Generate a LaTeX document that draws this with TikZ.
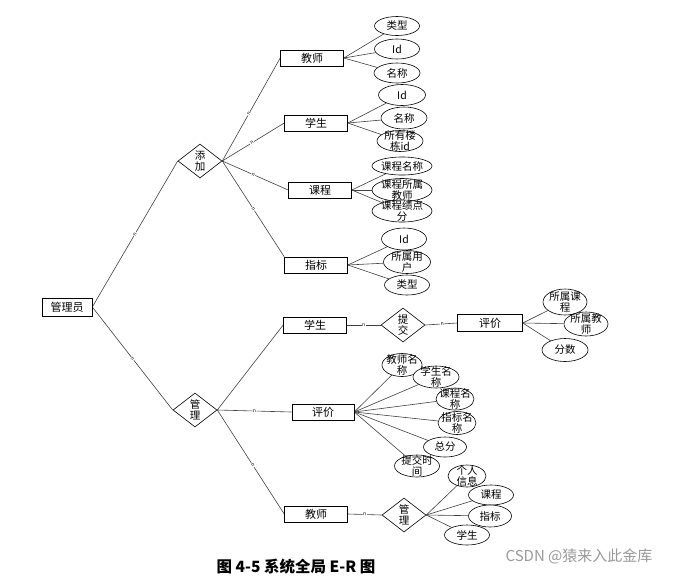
\documentclass[tikz,border=0pt]{standalone}
\usepackage{fontspec}
\setmainfont{Noto Sans CJK SC}
\usetikzlibrary{shapes.geometric,backgrounds}
\begin{document}
\begin{tikzpicture}[x=1pt,y=-1pt,
 ent/.style={draw=black, line width=0.6pt, minimum width=63pt, minimum height=16pt, inner sep=0pt, fill=white, font=\fontsize{11}{11}\selectfont},
 attr/.style={ellipse, draw=black, fill=white, line width=0.6pt, minimum width=45pt, minimum height=20pt, inner sep=0pt},
 atxt/.style={font=\fontsize{10.5}{10.5}\selectfont, align=center, inner sep=0pt},
 rel/.style={diamond, draw=black, fill=white, line width=0.6pt, minimum width=44pt, minimum height=34pt, inner sep=0pt},
 conn/.style={draw=black!75, line width=0.6pt},
 card/.style={font=\fontsize{5}{5}\selectfont, fill=white, inner sep=0.6pt, sloped},
]
\useasboundingbox (0,0) rectangle (692,579);

% entities
\node[ent, minimum width=50pt, minimum height=18pt] (admin) at (67,307) {管理员};
\node[ent] (e1) at (312,58) {教师};
\node[ent] (e2) at (316,123) {学生};
\node[ent] (e3) at (320,190) {课程};
\node[ent] (e4) at (316,265) {指标};
\node[ent] (e5) at (315,325) {学生};
\node[ent, minimum width=65pt, minimum height=17pt] (e6) at (490,323) {评价};
\node[ent, minimum width=62pt] (e7) at (323,412) {评价};
\node[ent] (e8) at (316,514) {教师};

% relations
\node[rel, label={[atxt]center:添\\加}] (r1) at (200,161) {};
\node[rel, label={[atxt]center:管\\理}] (r2) at (195,410) {};
\node[rel, label={[atxt]center:提\\交}] (r3) at (403,325) {};
\node[rel, label={[atxt]center:管\\理}] (r4) at (404,515) {};

% attributes of 教师
\node[attr, minimum height=19pt, label={[atxt]center:类型}] (a11) at (397,26) {};
\node[attr, label={[atxt]center:Id}] (a12) at (397,49) {};
\node[attr, minimum width=46pt, label={[atxt]center:名称}] (a13) at (397,73) {};
% attributes of 学生
\node[attr, minimum width=47pt, minimum height=21pt, label={[atxt]center:Id}] (a21) at (402,95) {};
\node[attr, minimum width=46pt, minimum height=22pt, label={[atxt]center:名称}] (a22) at (404,118) {};
\node[attr, minimum width=46pt, minimum height=21pt, label={[atxt]center:所有楼\\栋id}] (a23) at (400,141) {};
% attributes of 课程
\node[attr, minimum width=60pt, minimum height=18pt, label={[atxt]center:课程名称}] (a31) at (402,166) {};
\node[attr, minimum width=60pt, minimum height=23pt, label={[atxt]center:课程所属\\教师}] (a32) at (402,190) {};
\node[attr, minimum width=60pt, minimum height=22pt, label={[atxt]center:课程绩点\\分}] (a33) at (402,211) {};
% attributes of 指标
\node[attr, minimum height=22pt, label={[atxt]center:Id}] (a41) at (404,239) {};
\node[attr, minimum width=47pt, minimum height=23pt, label={[atxt]center:所属用\\户}] (a42) at (407,262) {};
\node[attr, label={[atxt]center:类型}] (a43) at (407,285) {};
% attributes of 评价 (right)
\node[attr, minimum width=44pt, minimum height=26pt, label={[atxt]center:所属课\\程}] (a51) at (565,302) {};
\node[attr, minimum width=44pt, minimum height=24pt, label={[atxt]center:所属教\\师}] (a52) at (586,324) {};
\node[attr, minimum width=46pt, minimum height=23pt, label={[atxt]center:分数}] (a53) at (565,350) {};
% attributes of 评价 (middle)
\node[attr, minimum width=40pt, minimum height=23pt, label={[atxt]center:教师名\\称}] (a61) at (402,365) {};
\node[attr, minimum width=46pt, minimum height=22pt, label={[atxt]center:学生名\\称}] (a62) at (436,377) {};
\node[attr, minimum width=38pt, minimum height=22pt, label={[atxt]center:课程名\\称}] (a63) at (455,399) {};
\node[attr, minimum width=38pt, minimum height=23pt, label={[atxt]center:指标名\\称}] (a64) at (457,423) {};
\node[attr, minimum width=43pt, label={[atxt]center:总分}] (a65) at (445,447) {};
\node[attr, minimum height=22pt, label={[atxt]center:提交时\\间}] (a66) at (417,466) {};
% attributes of 管理 (bottom)
\node[attr, minimum width=38pt, minimum height=22pt, label={[atxt]center:个人\\信息}] (a71) at (467,476) {};
\node[attr, label={[atxt]center:课程}] (a72) at (491,495) {};
\node[attr, minimum width=43pt, minimum height=22pt, label={[atxt]center:指标}] (a73) at (490,516) {};
\node[attr, label={[atxt]center:学生}] (a74) at (467,535) {};

\begin{scope}[on background layer]
\draw[conn] (admin.east) -- node[card, pos=0.5] {n} (r1.west);
\draw[conn] (admin.east) -- node[card, pos=0.5] {n} (r2.west);
\draw[conn] (r1.east) -- node[card, pos=0.46] {n} (e1.west);
\draw[conn] (r1.east) -- node[card, pos=0.48] {n} (e2.west);
\draw[conn] (r1.east) -- node[card, pos=0.47] {n} (e3.west);
\draw[conn] (r1.east) -- node[card, pos=0.5] {n} (e4.north west);
\draw[conn] (r2.east) -- (e5.west);
\draw[conn] (r2.east) -- node[card, pos=0.5] {n} (e7.west);
\draw[conn] (r2.east) -- node[card, pos=0.53] {n} (e8.west);
\draw[conn] (e5.east) -- node[card, pos=0.5] {n} (r3.west);
\draw[conn] (r3.east) -- node[card, pos=0.53] {n} (e6.west);
\draw[conn] (e8.east) -- node[card, pos=0.5] {n} (r4.west);
\foreach \a in {a11,a12,a13} \draw[conn] (e1.east) -- (\a);
\foreach \a in {a21,a22,a23} \draw[conn] (e2.east) -- (\a);
\foreach \a in {a31,a32,a33} \draw[conn] (e3.east) -- (\a);
\foreach \a in {a41,a42,a43} \draw[conn] (e4.east) -- (\a);
\foreach \a in {a51,a52,a53} \draw[conn] (e6.east) -- (\a);
\foreach \a in {a61,a62,a63,a64,a65,a66} \draw[conn] (e7.east) -- (\a);
\foreach \a in {a71,a72,a73,a74} \draw[conn] (r4.east) -- (\a);
\end{scope}

% caption and watermark
\node[font=\fontsize{15.5}{15.5}\selectfont\bfseries, inner sep=0pt] (cap) at (296,567) {图 4-5 系统全局 E-R 图};
\node[font=\fontsize{15}{15}\selectfont, text=black!40, inner sep=0pt] (wm) at (579,556) {CSDN @猿来入此金库};
\end{tikzpicture}
\end{document}
